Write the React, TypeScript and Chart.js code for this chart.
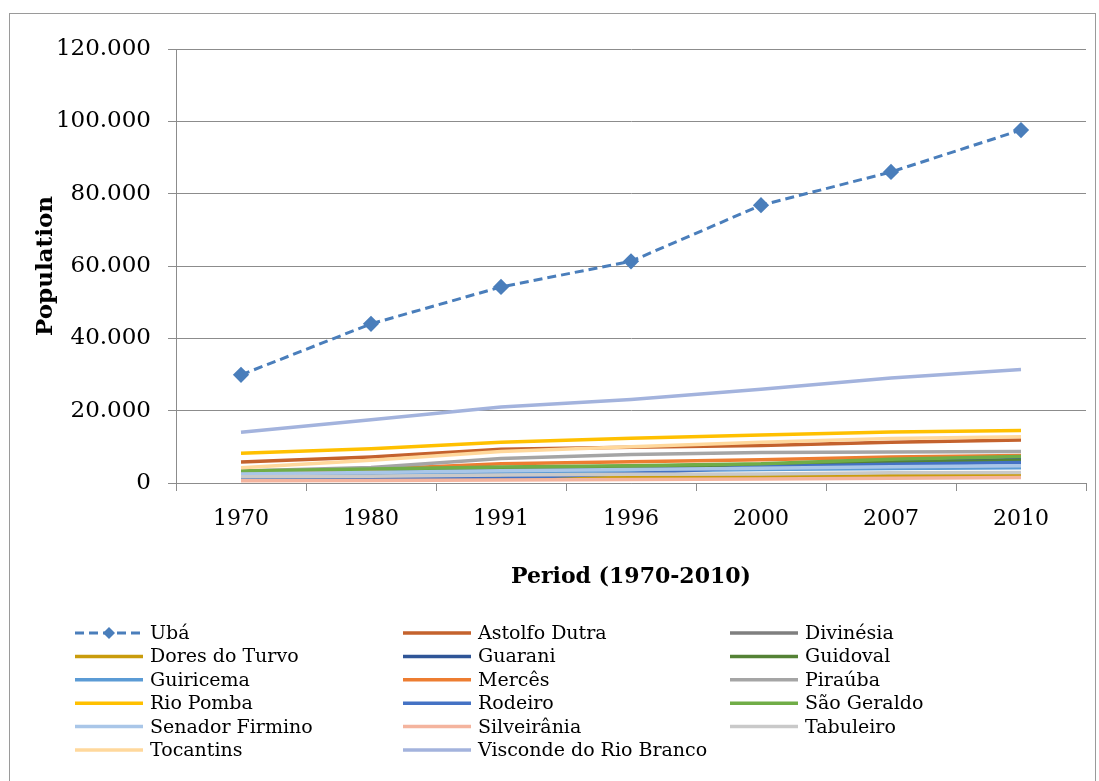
import React, { useEffect, useRef } from "react";
import { Chart, registerables } from "chart.js";

Chart.register(...registerables);

const periods = ["1970", "1980", "1991", "1996", "2000", "2007", "2010"];
const yTicks = [0, 20000, 40000, 60000, 80000, 100000, 120000];

const uba = [29900, 44000, 54200, 61300, 76800, 86000, 97600];
const astolfoDutra = [5800, 7200, 9300, 9900, 10400, 11300, 11900];
const divinesia = [800, 900, 1100, 1300, 1500, 1800, 1900];
const doresDoTurvo = [900, 1100, 1500, 1600, 1700, 2000, 2100];
const guarani = [2800, 3300, 3800, 4300, 4900, 5900, 6500];
const guidoval = [3200, 3700, 4200, 4600, 5100, 5700, 6200];
const guiricema = [2300, 2700, 3000, 3300, 3700, 4000, 4200];
const merces = [3000, 3800, 5300, 5900, 6400, 7200, 7600];
const pirauba = [3300, 4300, 6800, 7900, 8400, 8600, 8700];
const rioPomba = [8200, 9500, 11300, 12400, 13300, 14100, 14500];
const rodeiro = [1200, 1300, 1400, 2600, 4500, 5200, 5700];
const saoGeraldo = [3300, 3900, 4400, 4800, 5300, 6600, 7300];
const senadorFirmino = [2500, 2900, 3400, 3700, 4100, 4500, 4800];
const silveirania = [600, 700, 800, 1000, 1100, 1300, 1500];
const tabuleiro = [1700, 1900, 2200, 2400, 2500, 2800, 2900];
const tocantins = [4200, 6300, 8700, 10000, 11300, 12300, 12800];
const viscondeDoRioBranco = [14000, 17500, 21000, 23100, 25900, 29000, 31400];

const seriesNames = [
  "Ubá", "Astolfo Dutra", "Divinésia", "Dores do Turvo", "Guarani", "Guidoval",
  "Guiricema", "Mercês", "Piraúba", "Rio Pomba", "Rodeiro", "São Geraldo",
  "Senador Firmino", "Silveirânia", "Tabuleiro", "Tocantins", "Visconde do Rio Branco",
];
const seriesValues = [
  uba, astolfoDutra, divinesia, doresDoTurvo, guarani, guidoval, guiricema, merces,
  pirauba, rioPomba, rodeiro, saoGeraldo, senadorFirmino, silveirania, tabuleiro,
  tocantins, viscondeDoRioBranco,
];
const palette = [
  "#4a7ebb", "#c4622d", "#7f7f7f", "#c99c0c", "#2f5597", "#548235",
  "#5b9bd5", "#ed7d31", "#a5a5a5", "#ffc000", "#4472c4", "#70ad47",
  "#a9c6e8", "#f4b49e", "#c9c9c9", "#ffd89c", "#a3b3dd",
];

const FONT = '"DejaVu Serif", serif';

const fmt = (v: number) => String(v).replace(/\B(?=(\d{3})+(?!\d))/g, ".");

const columnLegend = {
  id: "columnLegend",
  afterDraw(chart: any) {
    const ctx = chart.ctx as CanvasRenderingContext2D;
    const ds = chart.data.datasets;
    const colX = [75, 403, 730];
    const rowY0 = 633;
    const rowH = 23.4;
    ctx.save();
    ctx.font = `19px ${FONT}`;
    ctx.textBaseline = "middle";
    ds.forEach((d: any, i: number) => {
      const col = i % 3;
      const row = Math.floor(i / 3);
      const x = colX[col];
      const y = rowY0 + row * rowH;
      ctx.strokeStyle = d.borderColor;
      ctx.lineWidth = d.borderWidth;
      ctx.setLineDash(d.borderDash || []);
      ctx.beginPath();
      ctx.moveTo(x, y);
      ctx.lineTo(x + 68, y);
      ctx.stroke();
      ctx.setLineDash([]);
      if (d.pointRadius > 0) {
        const r = d.pointRadius;
        const cx = x + 34;
        ctx.fillStyle = d.pointBackgroundColor;
        ctx.beginPath();
        ctx.moveTo(cx, y - r);
        ctx.lineTo(cx + r, y);
        ctx.lineTo(cx, y + r);
        ctx.lineTo(cx - r, y);
        ctx.closePath();
        ctx.fill();
      }
      ctx.fillStyle = "#000";
      ctx.fillText(d.label, x + 75, y + 1);
    });
    ctx.restore();
  },
};

export default function App() {
  const ref = useRef<HTMLCanvasElement>(null);

  useEffect(() => {
    if (!ref.current) return;
    const datasets = seriesNames.map((name, i) => {
      const isUba = i === 0;
      return {
        label: name,
        data: seriesValues[i],
        borderColor: palette[i],
        backgroundColor: palette[i],
        pointBackgroundColor: palette[i],
        pointBorderColor: palette[i],
        borderWidth: isUba ? 3 : 3.5,
        borderDash: isUba ? [9, 5] : [],
        pointStyle: "rectRot",
        pointRadius: isUba ? 6 : 0,
        pointHoverRadius: isUba ? 6 : 0,
        tension: 0,
        fill: false,
        order: isUba ? -100 : -i,
      };
    });

    const chart = new Chart(ref.current, {
      type: "line",
      data: { labels: periods, datasets: datasets as any },
      plugins: [columnLegend],
      options: {
        responsive: false,
        animation: false,
        layout: { padding: { top: 49, left: 32, right: 13, bottom: 191 } },
        plugins: {
          legend: { display: false },
          tooltip: { enabled: false },
          title: { display: false },
        },
        scales: {
          x: {
            type: "category",
            offset: true,
            afterFit: (s: any) => {
              s.height = 107;
            },
            grid: {
              offset: true,
              drawOnChartArea: false,
              drawTicks: true,
              tickLength: 8,
              color: "#8c8c8c",
            },
            border: { color: "#8c8c8c", width: 1 },
            ticks: {
              color: "#000",
              font: { family: FONT, size: 22 },
              padding: 15,
              maxRotation: 0,
            },
            title: {
              display: true,
              text: "Period (1970-2010)",
              color: "#000",
              font: { family: FONT, size: 22, weight: "bold" },
              padding: 0,
            },
          },
          y: {
            min: 0,
            max: 120000,
            afterFit: (s: any) => {
              s.width = 144;
            },
            afterBuildTicks: (s: any) => {
              s.ticks = yTicks.map((v) => ({ value: v }));
            },
            grid: {
              color: "#8c8c8c",
              tickLength: 8,
              lineWidth: 1,
            },
            border: { color: "#8c8c8c", width: 1 },
            ticks: {
              color: "#000",
              font: { family: FONT, size: 23 },
              padding: 17,
              callback: (v: any) => fmt(Number(v)),
            },
            title: {
              display: true,
              text: "Population",
              color: "#000",
              font: { family: FONT, size: 23, weight: "bold" },
              padding: 0,
            },
          },
        },
      },
    });
    return () => chart.destroy();
  }, []);

  return (
    <div style={{ position: "fixed", left: 0, top: 0, width: 1099, height: 781, background: "#fff" }}>
      <div
        style={{
          position: "absolute",
          left: 9,
          top: 13,
          width: 1087,
          height: 790,
          border: "1px solid #9a9a9a",
          boxSizing: "border-box",
        }}
      />
      <canvas
        ref={ref}
        width={1099}
        height={781}
        style={{ position: "absolute", left: 0, top: 0, width: 1099, height: 781 }}
      />
    </div>
  );
}
